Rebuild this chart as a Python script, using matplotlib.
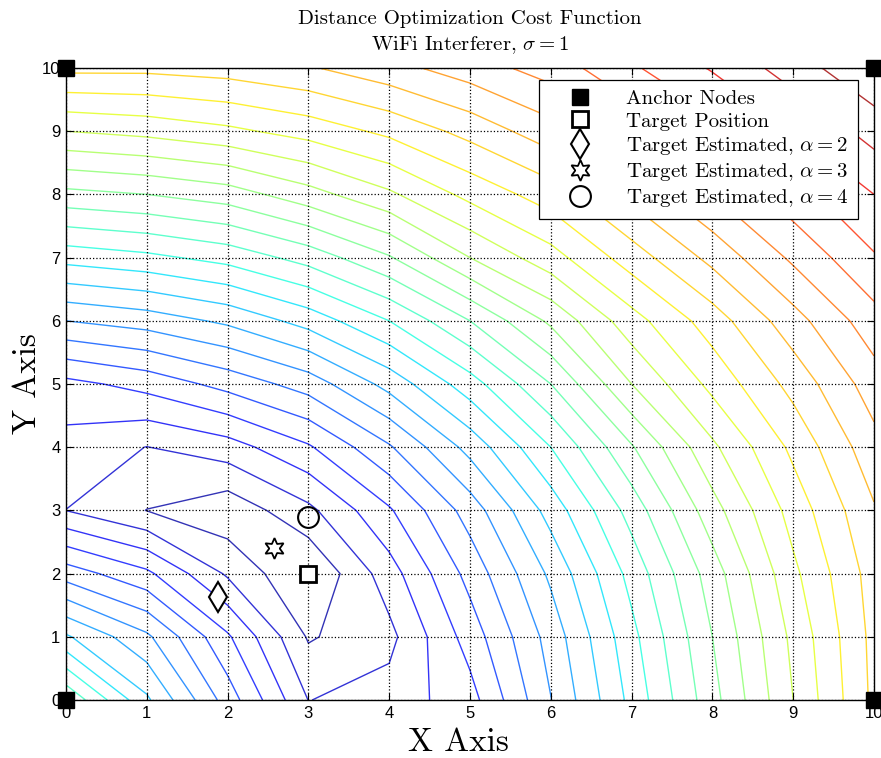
import numpy as np
import matplotlib
matplotlib.use("Agg")
from matplotlib import pyplot as plt

# grid of the cost function (x and y positions of the samples)
grid_x = [0, 1, 2, 3, 4, 5, 6, 7, 8, 9, 10]
grid_y = [0, 1, 2, 3, 4, 5, 6, 7, 8, 9, 10]

# cost values, one row per y (bottom row first)
cost_rows = [
    [12.9, 9.18, 5.54, 1.98, 2.4, 3.6, 6.97, 10.3, 13.64, 17.0, 20.23],
    [9.14, 7.2, 4.15, 0.89, 1.71, 4.45, 7.4, 10.7, 14.0, 17.25, 20.3],
    [5.54, 4.22, 1.85, 0.0, 2.55, 5.35, 8.2, 11.35, 14.5, 17.77, 20.45],
    [1.99, 0.98, 0.3, 1.75, 3.87, 6.45, 9.4, 12.4, 15.6, 18.4, 20.9],
    [2.62, 1.98, 2.55, 3.87, 5.88, 8.35, 11.0, 13.9, 16.8, 19.24, 21.65],
    [3.7, 4.35, 5.35, 6.45, 8.35, 10.56, 13.0, 16.0, 18.3, 20.34, 22.52],
    [7.0, 7.45, 8.2, 9.4, 11.0, 13.0, 15.2, 17.6, 19.5, 21.6, 23.6],
    [10.37, 10.75, 11.35, 12.4, 13.9, 16.0, 17.6, 19.5, 21.3, 23.2, 24.9],
    [13.7, 14.0, 14.5, 15.6, 16.82, 18.3, 19.5, 21.3, 23.0, 24.6, 26.0],
    [17.0, 17.3, 17.77, 18.4, 19.24, 20.34, 21.6, 23.2, 24.6, 26.0, 27.4],
    [20.26, 20.25, 20.45, 20.9, 21.65, 22.52, 23.45, 24.85, 26.1, 27.5, 28.9],
]
contour_levels = [1, 2, 3, 4, 5, 6, 7, 8, 9, 10, 11, 12, 13, 14, 15, 16, 17,
                  18, 19, 20, 21, 22, 23, 24, 25, 26, 27, 28]

anchor_x = [0, 10, 0, 10]
anchor_y = [0, 0, 10, 10]
target_pos = (3.0, 2.0)
est_alpha2 = (1.885, 1.63)
est_alpha3 = (2.57, 2.41)
est_alpha4 = (3.0, 2.9)

tick_vals = [0, 1, 2, 3, 4, 5, 6, 7, 8, 9, 10]

plt.rcParams['mathtext.fontset'] = 'cm'
serif = 'cmr10'

fig = plt.figure(figsize=(8.81, 7.58), dpi=100)
ax = fig.add_axes([66 / 881, 58 / 758, 808 / 881, 632 / 758])

Z = np.array(cost_rows)
ax.contour(grid_x, grid_y, Z, levels=contour_levels, cmap='jet',
           vmin=Z.min(), vmax=Z.max(), linewidths=1.0, alpha=0.8)

ax.set_xlim(0, 10)
ax.set_ylim(0, 10)
ax.set_xticks(tick_vals)
ax.set_yticks(tick_vals)
ax.tick_params(direction='in', top=True, right=True, length=5, width=0.8,
               labelsize=12, pad=4)
for lab in ax.get_xticklabels() + ax.get_yticklabels():
    lab.set_fontfamily('Liberation Sans')
ax.grid(True, color='black', linestyle=':', linewidth=0.9)
ax.set_axisbelow(False)
for sp in ax.spines.values():
    sp.set_linewidth(1.0)

# markers
ax.plot(anchor_x, anchor_y, 's', color='black', markersize=12,
        clip_on=False, zorder=10, label='Anchor Nodes')
ax.plot(*target_pos, 's', mfc='white', mec='black', mew=2, markersize=11,
        zorder=10, label='Target Position')
ax.plot(*est_alpha2, 'd', mfc='white', mec='black', mew=1.5, markersize=15,
        zorder=10, label=r'Target Estimated, $\alpha = 2$')
ax.plot(*est_alpha3, marker=(6, 1, 0), linestyle='none', mfc='white',
        mec='black', mew=1.3, markersize=15, zorder=10,
        label=r'Target Estimated, $\alpha = 3$')
ax.plot(*est_alpha4, 'o', mfc='none', mec='black', mew=1.5, markersize=15,
        zorder=10, label=r'Target Estimated, $\alpha = 4$')

leg = ax.legend(loc='upper right', bbox_to_anchor=(0.980, 0.981),
                prop={'family': serif, 'size': 15}, fancybox=False,
                framealpha=1, edgecolor='black', borderpad=0.45,
                labelspacing=0.2, handlelength=3.0, handletextpad=0.7,
                borderaxespad=0)
leg.get_frame().set_linewidth(0.9)
leg.set_zorder(20)

ax.set_title('Distance Optimization Cost Function\n' + r'WiFi Interferer, $\sigma = 1$',
             fontfamily=serif, fontsize=15, pad=13, linespacing=1.35)
ax.set_xlabel('X Axis', fontfamily=serif, fontsize=24, labelpad=2)
ax.xaxis.set_label_coords(0.486, -0.045)
ax.set_ylabel('Y Axis', fontfamily=serif, fontsize=24, labelpad=0)

fig.savefig('out.png', dpi=100)
